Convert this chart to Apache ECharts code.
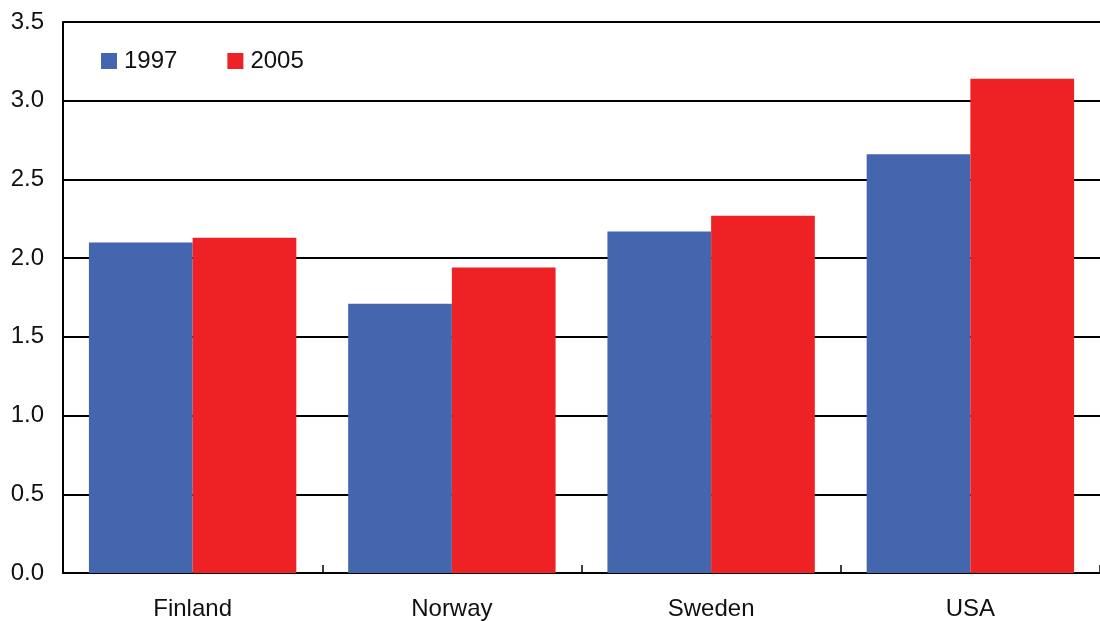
<!DOCTYPE html>
<html>
<head>
<meta charset="utf-8">
<script src="https://cdn.jsdelivr.net/npm/echarts@6/dist/echarts.min.js"></script>
<style>
html,body{margin:0;padding:0;background:#fff;}
#chart{width:1100px;height:621px;}
</style>
</head>
<body>
<div id="chart"></div>
<script>
var categories = ['Finland', 'Norway', 'Sweden', 'USA'];
var values1997 = [2.10, 1.71, 2.17, 2.66];
var values2005 = [2.13, 1.94, 2.27, 3.14];
var yTicks = { min: 0, max: 3.5, interval: 0.5 };

var chart = echarts.init(document.getElementById('chart'), null, { renderer: 'canvas' });
var font = 'Liberation Sans, Arial, sans-serif';
chart.setOption({
  animation: false,
  backgroundColor: '#ffffff',
  grid: { left: 63, top: 22, width: 1040, bottom: 48, containLabel: false },
  legend: {
    left: 101, top: 49, padding: 0,
    itemWidth: 16, itemHeight: 16, itemGap: 50,
    icon: 'rect',
    textStyle: { fontFamily: font, fontSize: 24, color: '#111', padding: [0, 0, 0, 2] },
    data: ['1997', '2005']
  },
  xAxis: {
    type: 'category',
    data: categories,
    axisLine: { lineStyle: { color: '#000', width: 2 } },
    axisTick: { show: true, inside: true, length: 8, lineStyle: { color: '#000', width: 1.5 } },
    axisLabel: { fontFamily: font, fontSize: 24, color: '#111', margin: 24 }
  },
  yAxis: {
    type: 'value',
    min: yTicks.min, max: yTicks.max, interval: yTicks.interval,
    axisLine: { show: true, lineStyle: { color: '#000', width: 2 } },
    axisTick: { show: true, inside: true, length: 8, lineStyle: { color: '#000', width: 2 } },
    splitLine: { show: true, lineStyle: { color: '#000', width: 2 } },
    axisLabel: {
      fontFamily: font, fontSize: 24, color: '#111', margin: 19,
      formatter: function (v) { return v.toFixed(1); }
    }
  },
  series: [
    { name: '1997', type: 'bar', data: values1997, barGap: '0%', barCategoryGap: '20%',
      itemStyle: { color: '#4466AE' } },
    { name: '2005', type: 'bar', data: values2005, barGap: '0%', barCategoryGap: '20%',
      itemStyle: { color: '#EE2224' } }
  ]
});
</script>
</body>
</html>
